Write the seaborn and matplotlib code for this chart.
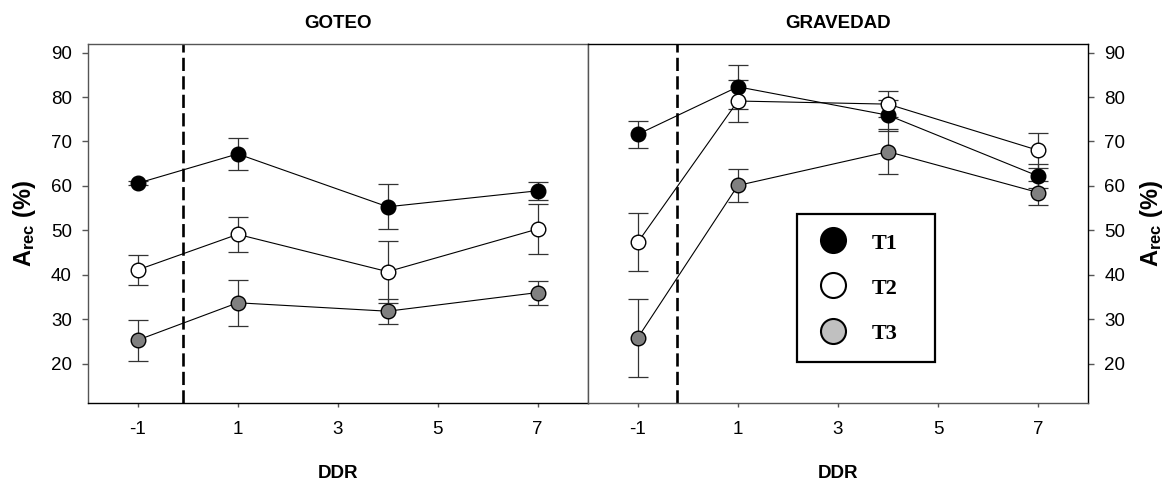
import numpy as np
import pandas as pd
import matplotlib
matplotlib.use("Agg")
import matplotlib.pyplot as plt
from matplotlib.lines import Line2D
import seaborn as sns

# ---------------- data ----------------
ddr = [-1, 1, 4, 7]
treatments = ["T1", "T2", "T3"]

goteo_t1 = [60.6, 67.2, 55.3, 58.9]
goteo_t1_err = [0.5, 3.6, 5.1, 2.0]
goteo_t2 = [41.1, 49.1, 40.7, 50.3]
goteo_t2_err = [3.3, 4.0, 7.0, 5.7]
goteo_t3 = [25.3, 33.7, 31.8, 36.0]
goteo_t3_err = [4.6, 5.2, 2.8, 2.7]

grav_t1 = [71.6, 82.3, 75.9, 62.2]
grav_t1_err = [3.0, 5.0, 3.5, 2.7]
grav_t2 = [47.3, 79.1, 78.4, 68.0]
grav_t2_err = [6.5, 4.7, 3.0, 4.0]
grav_t3 = [25.8, 60.1, 67.7, 58.5]
grav_t3_err = [8.8, 3.7, 5.0, 2.7]

panel_titles = ["GOTEO", "GRAVEDAD"]
xticks = [-1, 1, 3, 5, 7]
yticks = [20, 30, 40, 50, 60, 70, 80, 90]
event_x = [-0.1, -0.22]

face_colors = {"T1": "black", "T2": "white", "T3": "#808080"}
legend_faces = {"T1": "black", "T2": "white", "T3": "#c0c0c0"}

# ---------------- style ----------------
sns.set_style("white")
plt.rcParams["font.family"] = ["Liberation Sans", "DejaVu Sans"]
plt.rcParams["mathtext.fontset"] = "custom"
plt.rcParams["mathtext.rm"] = "Liberation Sans"
plt.rcParams["mathtext.bf"] = "Liberation Sans:bold"
plt.rcParams["mathtext.it"] = "Liberation Sans:italic"
plt.rcParams["text.color"] = "black"
plt.rcParams["axes.labelcolor"] = "black"
plt.rcParams["xtick.color"] = "black"
plt.rcParams["ytick.color"] = "black"
plt.rcParams["xtick.labelcolor"] = "black"
plt.rcParams["ytick.labelcolor"] = "black"

def long_df(t1, e1, t2, e2, t3, e3):
    rows = []
    for name, vals, errs in (("T1", t1, e1), ("T2", t2, e2), ("T3", t3, e3)):
        for x, v, e in zip(ddr, vals, errs):
            rows.append({"DDR": x, "Arec": v, "err": e, "trat": name})
    return pd.DataFrame(rows)

dfs = [long_df(goteo_t1, goteo_t1_err, goteo_t2, goteo_t2_err, goteo_t3, goteo_t3_err),
       long_df(grav_t1, grav_t1_err, grav_t2, grav_t2_err, grav_t3, grav_t3_err)]

W, H = 1173, 483
fig = plt.figure(figsize=(W / 100, H / 100), dpi=100)
axL = fig.add_axes([87.7 / W, 1 - 403.2 / H, 500.0 / W, 359.5 / H])
axR = fig.add_axes([587.7 / W, 1 - 403.2 / H, 500.6 / W, 359.5 / H])

ylabel = r"$\mathbf{A_{rec}}$ (%)"

for i, (ax, df) in enumerate(zip([axL, axR], dfs)):
    ax.axvline(event_x[i], color="black", lw=1.9, dashes=(5, 2), zorder=1)
    for t in treatments:
        d = df[df["trat"] == t]
        ax.errorbar(d["DDR"], d["Arec"], yerr=d["err"], fmt="none",
                    ecolor="#333333", elinewidth=0.9, capsize=7, capthick=0.9,
                    zorder=2)
        sns.lineplot(data=d, x="DDR", y="Arec", ax=ax, color="black", lw=0.8,
                     marker="o", markersize=10.5, markerfacecolor=face_colors[t],
                     markeredgecolor="black", markeredgewidth=1.0,
                     estimator=None, sort=True, legend=False, zorder=3)
    ax.set_xlim(-2, 8)
    ax.set_ylim(11.1, 92)
    ax.set_xticks(xticks)
    ax.set_xticklabels([str(v) for v in xticks])
    ax.set_yticks(yticks)
    ax.set_yticklabels([str(v) for v in yticks])
    ax.tick_params(axis="x", which="both", bottom=True, length=3, width=1,
                   color="#555555", labelcolor="black", labelsize=13.5, pad=10)
    ax.tick_params(axis="y", which="both", length=4, width=1, color="#555555",
                   labelcolor="black", labelsize=13.5, pad=7.5)
    ax.set_title(panel_titles[i], fontsize=13.5, fontweight="bold", pad=11,
                 color="black")
    ax.set_xlabel("DDR", fontsize=13.5, fontweight="bold", labelpad=19,
                  color="black")
    ax.set_ylabel(ylabel, fontsize=17, fontweight="bold", labelpad=9,
                  color="black")
    for s in ax.spines.values():
        s.set_linewidth(1.0)

# spine colours
for s in ["left", "top", "right"]:
    axL.spines[s].set_color("#555555")
axL.spines["bottom"].set_color("black")
axR.spines["left"].set_color("#555555")
axR.spines["bottom"].set_color("#555555")
axR.spines["top"].set_color("black")
axR.spines["right"].set_color("black")

axL.tick_params(axis="y", left=True, right=False, labelleft=True, labelright=False)
axR.yaxis.tick_right()
axR.yaxis.set_label_position("right")
axR.tick_params(axis="y", left=False, right=True, labelleft=False, labelright=True)
axR.set_ylabel(ylabel, fontsize=17, fontweight="bold", labelpad=9, rotation=90,
               color="black")

# legend
handles = [Line2D([], [], linestyle="none", marker="o", markersize=18,
                  markerfacecolor=legend_faces[t], markeredgecolor="black",
                  markeredgewidth=1.5, label=t) for t in treatments]
x0 = (797.3 - 587.7) / 500.6
w = 137.7 / 500.6
y0 = (403.3 - 364.0) / 359.3
h = 151.7 / 359.3
leg = axR.legend(handles=handles, loc="center", bbox_to_anchor=(x0, y0, w, h),
                 mode="expand", borderaxespad=0, frameon=True, fancybox=False,
                 prop={"family": "Liberation Serif", "weight": "bold", "size": 16},
                 handlelength=1.6, handletextpad=0.95, borderpad=0.8,
                 labelspacing=1.05, handleheight=0.9, labelcolor="black")
leg.get_frame().set_edgecolor("black")
leg.get_frame().set_linewidth(1.6)
leg.get_frame().set_facecolor("white")
leg.get_frame().set_alpha(1)

fig.savefig("out.png", dpi=100)
